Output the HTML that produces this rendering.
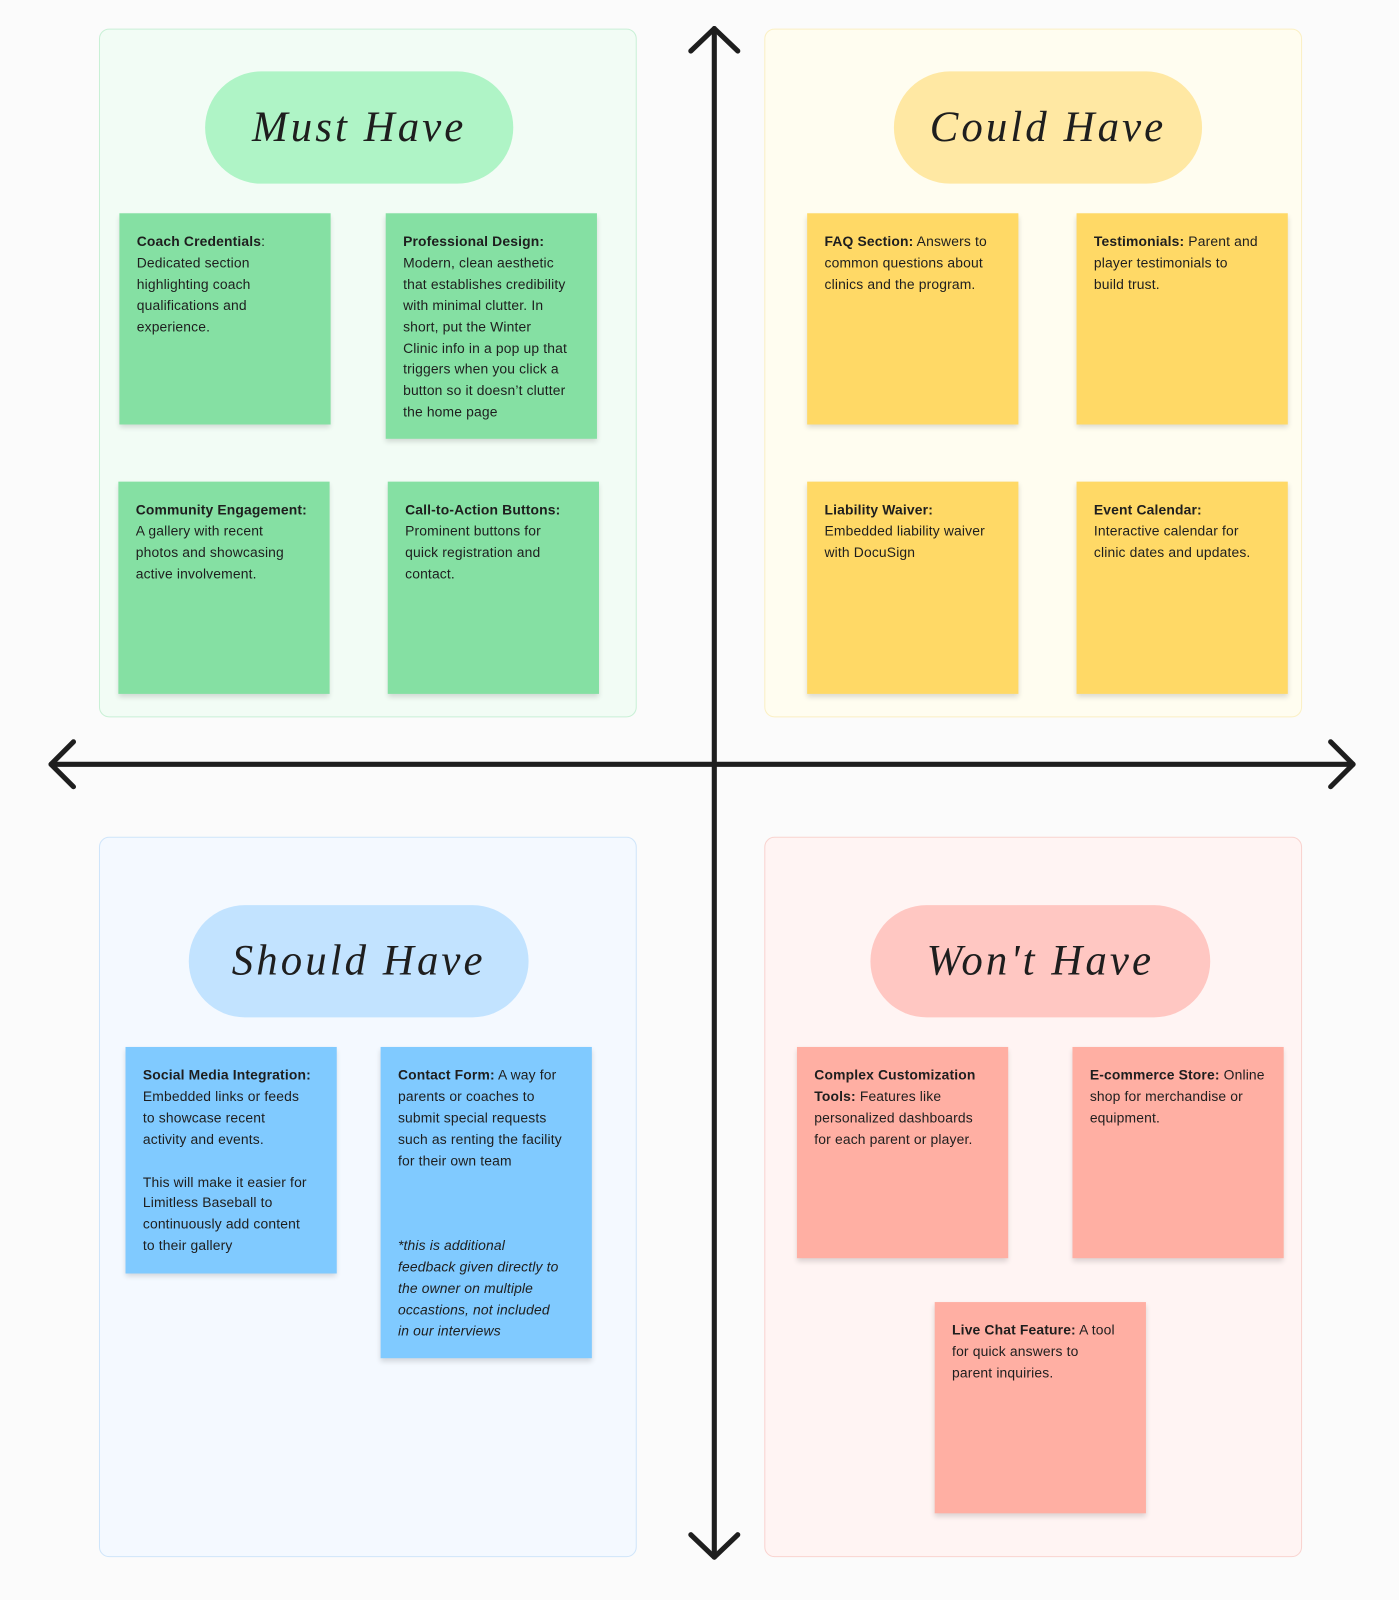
<!DOCTYPE html>
<html><head><meta charset="utf-8"><style>
html,body{margin:0;padding:0;background:#fbfbfb;}
#w{position:relative;width:1371px;height:1568px;transform:scale(1.02043);transform-origin:0 0;font-family:"Liberation Sans",sans-serif;}
.p{position:absolute;border-radius:10px;box-sizing:border-box;}
.pill{position:absolute;height:110px;border-radius:55px;display:flex;align-items:center;justify-content:center;font-family:"Liberation Serif",serif;font-style:italic;font-size:42px;color:#1e1e1e;letter-spacing:3px;}
.n{position:absolute;width:207px;height:207px;box-sizing:border-box;padding:18px 4px 0 17px;font-size:13.6px;letter-spacing:0.15px;line-height:20.9px;color:#1e1e1e;box-shadow:0 3px 5px rgba(0,0,0,0.14);white-space:nowrap;overflow:hidden;}
.g{background:#85e0a3}.y{background:#ffd966}.b{background:#80caff}.r{background:#ffafa3}
b{font-weight:bold}
</style></head><body><div id="w">
<div class="p" style="left:97px;top:28px;width:527px;height:675px;background:#f2fcf5;border:1px solid #c9f0d6"></div>
<div class="p" style="left:749px;top:28px;width:527px;height:675px;background:#fffdf0;border:1px solid #fbf0c4"></div>
<div class="p" style="left:97px;top:820px;width:527px;height:706px;background:#f4f9ff;border:1px solid #cfe5fa"></div>
<div class="p" style="left:749px;top:820px;width:527px;height:706px;background:#fff4f3;border:1px solid #f9d3cf"></div>

<div class="pill" style="left:201px;top:70px;width:302px;background:#aff4c6">Must Have</div>
<div class="pill" style="left:876px;top:70px;width:302px;background:#ffe8a3">Could Have</div>
<div class="pill" style="left:185px;top:887px;width:333px;background:#c2e3ff">Should Have</div>
<div class="pill" style="left:853px;top:887px;width:333px;background:#ffc7c2">Won't Have</div>

<div class="n g" style="left:117px;top:209px"><b>Coach Credentials</b>:<br>Dedicated section<br>highlighting coach<br>qualifications and<br>experience.</div>
<div class="n g" style="left:378px;top:209px;height:221px"><b>Professional Design:</b><br>Modern, clean aesthetic<br>that establishes credibility<br>with minimal clutter. In<br>short, put the Winter<br>Clinic info in a pop up that<br>triggers when you click a<br>button so it doesn’t clutter<br>the home page</div>
<div class="n g" style="left:116px;top:472px;height:208px"><b>Community Engagement:</b><br>A gallery with recent<br>photos and showcasing<br>active involvement.</div>
<div class="n g" style="left:380px;top:472px;height:208px"><b>Call-to-Action Buttons:</b><br>Prominent buttons for<br>quick registration and<br>contact.</div>

<div class="n y" style="left:791px;top:209px"><b>FAQ Section:</b> Answers to<br>common questions about<br>clinics and the program.</div>
<div class="n y" style="left:1055px;top:209px"><b>Testimonials:</b> Parent and<br>player testimonials to<br>build trust.</div>
<div class="n y" style="left:791px;top:472px;height:208px"><b>Liability Waiver:</b><br>Embedded liability waiver<br>with DocuSign</div>
<div class="n y" style="left:1055px;top:472px;height:208px"><b>Event Calendar:</b><br>Interactive calendar for<br>clinic dates and updates.</div>

<div class="n b" style="left:123px;top:1026px;height:222px"><b>Social Media Integration:</b><br>Embedded links or feeds<br>to showcase recent<br>activity and events.<br><br>This will make it easier for<br>Limitless Baseball to<br>continuously add content<br>to their gallery</div>
<div class="n b" style="left:373px;top:1026px;height:305px"><b>Contact Form:</b> A way for<br>parents or coaches to<br>submit special requests<br>such as renting the facility<br>for their own team<br><br><br><br><i>*this is additional<br>feedback given directly to<br>the owner on multiple<br>occastions, not included<br>in our interviews</i></div>

<div class="n r" style="left:781px;top:1026px"><b>Complex Customization<br>Tools:</b> Features like<br>personalized dashboards<br>for each parent or player.</div>
<div class="n r" style="left:1051px;top:1026px"><b>E-commerce Store:</b> Online<br>shop for merchandise or<br>equipment.</div>
<div class="n r" style="left:916px;top:1276px"><b>Live Chat Feature:</b> A tool<br>for quick answers to<br>parent inquiries.</div>

<svg style="position:absolute;left:0;top:0" width="1371" height="1568">
<g stroke="#1e1e1e" stroke-width="5" fill="none" stroke-linecap="round" stroke-linejoin="round">
<line x1="700" y1="28" x2="700" y2="1526"/>
<line x1="50" y1="749" x2="1326" y2="749"/>
<polyline points="677,50 700,28 723,50"/>
<polyline points="677,1504 700,1526 723,1504"/>
<polyline points="72,727 50,749 72,771"/>
<polyline points="1304,727 1326,749 1304,771"/>
</g></svg>
</div></body></html>
